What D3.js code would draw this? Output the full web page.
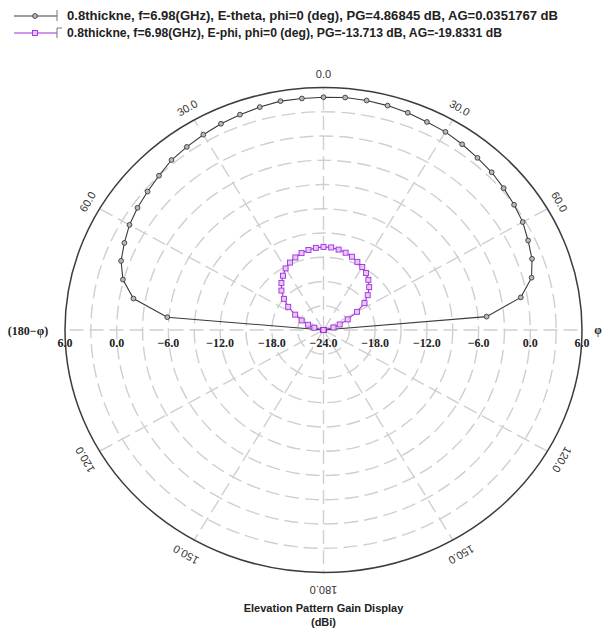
<!DOCTYPE html>
<html>
<head>
<meta charset="utf-8">
<script src="https://cdn.jsdelivr.net/npm/d3@7"></script>
<style>
  html, body { margin: 0; padding: 0; background: #fff; }
  svg { display: block; }
</style>
</head>
<body>
<svg id="chart" width="606" height="628"></svg>
<script>
// Elevation cut angles (deg, measured from zenith, positive toward phi side)
const angles = [-90, -85, -80, -75, -70, -65, -60, -55, -50, -45, -40, -35, -30, -25, -20, -15, -10, -5,
                0, 5, 10, 15, 20, 25, 30, 35, 40, 45, 50, 55, 60, 65, 70, 75, 80, 85, 90];

// E-theta gain (dBi)
const eTheta = [-24, -5.8, -1.6, 0.1, 1.0, 1.5, 2.0, 2.35, 2.65, 3.0, 3.45, 3.65, 3.9, 4.15, 4.35, 4.55, 4.75, 4.75,
                4.8, 4.87, 4.83, 4.74, 4.6, 4.4, 4.3, 4.05, 3.8, 3.6, 3.3, 3.0, 2.7, 2.2, 1.75, 1.0, -0.75, -5.0, -24];

// E-phi gain (dBi); values at or below -24 sit on the plot centre
const ePhi = [-24, -24, -24, -22.9, -22.1, -21.2, -20.2, -19.0, -18.0, -17.1, -16.4, -15.8, -15.2, -14.8, -14.45, -14.15, -13.95, -13.8,
              -13.72, -13.75, -13.9, -14.1, -14.35, -14.7, -15.0, -15.4, -15.9, -16.5, -17.3, -18.2, -19.5, -20.9, -22.0, -22.8, -24, -24, -24];

// Grid / axis definitions
const gainRings = [-21, -18, -15, -12, -9, -6, -3, 0, 3];
const gainLabels = [6, 0, -6, -12, -18, -24];
const spokeAngles = [0, 30, 60, 90, 120, 150, 180, -30, -60, -90, -120, -150];
const angleLabels = [0, 30, 60, 120, 150, 180, -30, -60, -120, -150];

const seriesNames = [
  "0.8thickne, f=6.98(GHz), E-theta, phi=0 (deg), PG=4.86845 dB, AG=0.0351767 dB",
  "0.8thickne, f=6.98(GHz), E-phi, phi=0 (deg), PG=-13.713 dB, AG=-19.8331 dB"
];
const seriesColors = ["#3a3a3a", "#a22ee0"];
const titleLines = ["Elevation Pattern Gain Display", "(dBi)"];

// ---- layout ----
const cx = 323.5, cy = 330, rx = 258.5, ry = 242.5;
const svg = d3.select("#chart");

const rScale = d3.scaleLinear().domain([-24, 6]).range([0, 1]).clamp(true);
const xs = d3.scaleLinear().domain([-1, 1]).range([cx - rx, cx + rx]);
const ys = d3.scaleLinear().domain([-1, 1]).range([cy + ry, cy - ry]);
const rad = d => d * Math.PI / 180;
const px = (deg, r) => xs(r * Math.sin(rad(deg)));
const py = (deg, r) => ys(r * Math.cos(rad(deg)));

const grid = svg.append("g");

// dashed gain rings
grid.selectAll("ellipse.ring").data(gainRings).join("ellipse")
  .attr("class", "ring")
  .attr("cx", cx).attr("cy", cy)
  .attr("rx", d => xs(rScale(d)) - cx)
  .attr("ry", d => cy - ys(rScale(d)))
  .attr("fill", "none")
  .attr("stroke", "#cfcfcf")
  .attr("stroke-width", 1.4)
  .attr("stroke-dasharray", "14,6");

// dashed angular spokes
grid.selectAll("line.spoke").data(spokeAngles).join("line")
  .attr("class", "spoke")
  .attr("x1", cx).attr("y1", cy)
  .attr("x2", d => px(d, 1)).attr("y2", d => py(d, 1))
  .attr("stroke", "#cfcfcf")
  .attr("stroke-width", 1.4)
  .attr("stroke-dasharray", "14,6");

// outer boundary
grid.append("ellipse")
  .attr("cx", cx).attr("cy", cy)
  .attr("rx", rx).attr("ry", ry)
  .attr("fill", "none")
  .attr("stroke", "#3c3c3c")
  .attr("stroke-width", 1.5);

// angle labels, rotated tangentially
const angleFmt = d3.format(".1f");
grid.selectAll("text.ang").data(angleLabels).join("text")
  .attr("class", "ang")
  .attr("transform", d => {
    const off = Math.abs(d) > 90 ? 17 : 14;
    const x = px(d, 1) + off * Math.sin(rad(d));
    const y = py(d, 1) - off * Math.cos(rad(d));
    return `translate(${x},${y}) rotate(${d})`;
  })
  .attr("text-anchor", "middle")
  .attr("dominant-baseline", "central")
  .attr("font-family", "Arial, 'Liberation Sans', sans-serif")
  .attr("font-size", 11)
  .attr("fill", "#333")
  .text(d => angleFmt(Math.abs(d)));

// gain labels along the horizontal axis (both sides)
const gainSides = [];
gainLabels.forEach(v => {
  gainSides.push({ v, side: -1 });
  if (v !== -24) gainSides.push({ v, side: 1 });
});
grid.selectAll("text.gain").data(gainSides).join("text")
  .attr("class", "gain")
  .attr("x", d => xs(d.side * rScale(d.v)))
  .attr("y", cy + 13)
  .attr("text-anchor", "middle")
  .attr("dominant-baseline", "central")
  .attr("font-family", "'Liberation Serif', 'Times New Roman', serif")
  .attr("font-weight", "bold")
  .attr("font-size", 12)
  .attr("fill", "#222")
  .text(d => angleFmt(d.v));

grid.append("text")
  .attr("x", 28).attr("y", cy + 1)
  .attr("text-anchor", "middle")
  .attr("dominant-baseline", "central")
  .attr("font-family", "'Liberation Serif', 'Times New Roman', serif")
  .attr("font-weight", "bold")
  .attr("font-size", 12)
  .attr("fill", "#222")
  .text("(180\u2212\u03c6)");

grid.append("text")
  .attr("x", 598).attr("y", cy)
  .attr("text-anchor", "middle")
  .attr("dominant-baseline", "central")
  .attr("font-family", "'Liberation Serif', 'Times New Roman', serif")
  .attr("font-weight", "bold")
  .attr("font-size", 12)
  .attr("fill", "#222")
  .text("\u03c6");

// ---- pattern curves ----
const line = d3.line()
  .x(d => px(d.a, rScale(d.g)))
  .y(d => py(d.a, rScale(d.g)));

const thetaPts = angles.map((a, i) => ({ a, g: eTheta[i] }));
const phiPts = angles.map((a, i) => ({ a, g: ePhi[i] }));

const plot = svg.append("g");

plot.append("path").datum(thetaPts)
  .attr("d", line)
  .attr("fill", "none")
  .attr("stroke", seriesColors[0])
  .attr("stroke-width", 1.1);

plot.selectAll("circle.mk").data(thetaPts.filter(d => d.g > -24)).join("circle")
  .attr("class", "mk")
  .attr("cx", d => px(d.a, rScale(d.g)))
  .attr("cy", d => py(d.a, rScale(d.g)))
  .attr("r", 2.4)
  .attr("fill", "#b8b8b8")
  .attr("stroke", "#3a3a3a")
  .attr("stroke-width", 0.9);

plot.append("path").datum(phiPts)
  .attr("d", line)
  .attr("fill", "none")
  .attr("stroke", seriesColors[1])
  .attr("stroke-width", 1.1);

plot.selectAll("rect.mk").data(phiPts).join("rect")
  .attr("class", "mk")
  .attr("x", d => px(d.a, rScale(d.g)) - 2.5)
  .attr("y", d => py(d.a, rScale(d.g)) - 2.5)
  .attr("width", 5).attr("height", 5)
  .attr("fill", "#e6c8f5")
  .attr("stroke", seriesColors[1])
  .attr("stroke-width", 0.9);

// ---- legend ----
const legend = svg.append("g");
const rows = [16, 33];
const rowWidths = [491, 435];
seriesNames.forEach((name, i) => {
  const y = rows[i];
  const g = legend.append("g");
  g.append("line").attr("x1", 14).attr("x2", 57).attr("y1", y).attr("y2", y)
    .attr("stroke", seriesColors[i]).attr("stroke-width", 1.1);
  if (i === 0) {
    g.append("circle").attr("cx", 35).attr("cy", y).attr("r", 2.4)
      .attr("fill", "#b8b8b8").attr("stroke", seriesColors[0]).attr("stroke-width", 0.9);
    g.append("line").attr("x1", 57).attr("x2", 57).attr("y1", y - 6).attr("y2", y + 5)
      .attr("stroke", "#777").attr("stroke-width", 1);
  } else {
    g.append("rect").attr("x", 32.5).attr("y", y - 2.5).attr("width", 5).attr("height", 5)
      .attr("fill", "#e6c8f5").attr("stroke", seriesColors[1]).attr("stroke-width", 0.9);
    g.append("path").attr("d", `M57,${y + 5}V${y - 5}H62`)
      .attr("fill", "none").attr("stroke", "#777").attr("stroke-width", 1);
  }
  g.append("text")
    .attr("x", 67).attr("y", y)
    .attr("dominant-baseline", "central")
    .attr("font-family", "Arial, 'Liberation Sans', sans-serif")
    .attr("font-weight", "bold")
    .attr("font-size", 12)
    .attr("textLength", rowWidths[i])
    .attr("lengthAdjust", "spacingAndGlyphs")
    .attr("fill", "#222")
    .text(name);
});

// ---- title ----
svg.selectAll("text.title").data(titleLines).join("text")
  .attr("class", "title")
  .attr("x", cx)
  .attr("y", (d, i) => 608 + i * 14)
  .attr("text-anchor", "middle")
  .attr("dominant-baseline", "central")
  .attr("font-family", "Arial, 'Liberation Sans', sans-serif")
  .attr("font-weight", "bold")
  .attr("font-size", 11)
  .attr("fill", "#222")
  .text(d => d);
</script>
</body>
</html>
